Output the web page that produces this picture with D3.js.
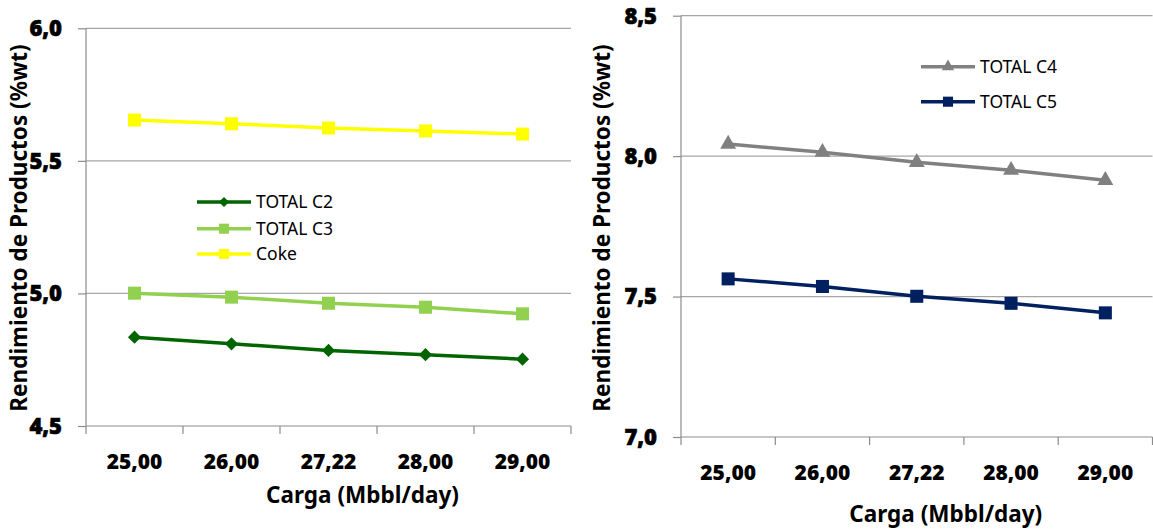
<!DOCTYPE html>
<html>
<head>
<meta charset="utf-8">
<script src="https://cdn.jsdelivr.net/npm/d3@7"></script>
<style>
  html, body { margin: 0; padding: 0; background: #fff; }
  svg { display: block; font-family: "Noto Sans", "DejaVu Sans", sans-serif; }
  text.num { font-family: "Open Sans", "Noto Sans", sans-serif; font-weight: 800; }
</style>
</head>
<body>
<svg id="chart" width="1153" height="529"></svg>
<script>
// Feed rate categories (Mbbl/day)
const cargas = ["25,00", "26,00", "27,22", "28,00", "29,00"];

// Light products yield (%wt)
const totalC2 = [4.835, 4.810, 4.785, 4.769, 4.752];
const totalC3 = [5.001, 4.986, 4.963, 4.948, 4.923];
const coke    = [5.654, 5.640, 5.624, 5.613, 5.601];

// Heavier products yield (%wt)
const totalC4 = [8.043, 8.014, 7.978, 7.950, 7.914];
const totalC5 = [7.563, 7.536, 7.501, 7.476, 7.442];

// Y tick values for each panel
const ticksLeft  = [4.5, 5.0, 5.5, 6.0];
const ticksRight = [7.0, 7.5, 8.0, 8.5];

const svg = d3.select("#chart");
const fmtComma = d => d3.format(".1f")(d).replace(".", ",");

function drawPanel(cfg) {
  const g = svg.append("g");
  const x = d3.scaleBand().domain(cargas).range([cfg.x0, cfg.x1]);
  const y = d3.scaleLinear().domain(cfg.domain).range([cfg.y0, cfg.y1]);

  // horizontal gridlines
  g.append("g").selectAll("line").data(cfg.ticks.slice(1)).join("line")
    .attr("x1", cfg.x0).attr("x2", cfg.x1)
    .attr("y1", d => y(d)).attr("y2", d => y(d))
    .attr("stroke", "#a6a6a6").attr("stroke-width", 1.2);

  // y axis: line and tick marks from the axis generator, labels drawn in bold
  const ya = g.append("g").attr("transform", `translate(${cfg.x0},0)`)
    .call(d3.axisLeft(y).tickValues(cfg.ticks).tickFormat("").tickSize(8));
  ya.selectAll("path, line").attr("stroke", "#8c8c8c").attr("stroke-width", 1.2);
  ya.select(".domain").attr("d", `M0,${cfg.y0}V${cfg.y1}`);
  ya.selectAll("text").remove();
  g.append("g").selectAll("text").data(cfg.ticks).join("text")
    .attr("class", "num")
    .attr("x", cfg.x0 - 24).attr("y", d => y(d)).attr("dy", "0.36em")
    .attr("text-anchor", "end")
    .style("font-size", "22px").attr("fill", "#000")
    .attr("stroke", "#000").attr("stroke-width", 0.6)
    .text(fmtComma);

  // x axis baseline and boundary ticks
  g.append("line").attr("x1", cfg.x0).attr("x2", cfg.x1)
    .attr("y1", cfg.y0).attr("y2", cfg.y0)
    .attr("stroke", "#8c8c8c").attr("stroke-width", 1.2);
  const bounds = cargas.map(c => x(c)).concat([x(cargas[cargas.length - 1]) + x.bandwidth()]);
  g.append("g").selectAll("line").data(bounds).join("line")
    .attr("x1", d => d).attr("x2", d => d)
    .attr("y1", cfg.y0).attr("y2", cfg.y0 + 8)
    .attr("stroke", "#8c8c8c").attr("stroke-width", 1.2);
  g.append("g").selectAll("text").data(cargas).join("text")
    .attr("class", "num")
    .attr("x", d => x(d) + x.bandwidth() / 2)
    .attr("y", cfg.y0 + cfg.xLabelDy)
    .attr("text-anchor", "middle")
    .style("font-size", "21px")
    .text(d => d);

  // axis titles
  g.append("text")
    .attr("x", (cfg.x0 + cfg.x1) / 2 + cfg.xTitleShift)
    .attr("y", cfg.xTitleY)
    .attr("text-anchor", "middle").style("font-weight", "700").style("font-size", "22.5px")
    .text("Carga (Mbbl/day)");
  g.append("text")
    .attr("transform", `translate(${cfg.yTitleX},${cfg.yTitleY}) rotate(-90)`)
    .attr("text-anchor", "middle").style("font-weight", "700").style("font-size", "22.5px")
    .text("Rendimiento de Productos (%wt)");

  // series
  const cx = i => x(cargas[i]) + x.bandwidth() / 2;
  cfg.series.forEach(s => {
    const line = d3.line().x((d, i) => cx(i)).y(d => y(d));
    g.append("path").datum(s.values).attr("d", line)
      .attr("fill", "none").attr("stroke", s.color).attr("stroke-width", 3.5)
      .attr("stroke-linejoin", "round");
    g.append("g").selectAll("path").data(s.values).join("path")
      .attr("transform", (d, i) => `translate(${cx(i)},${y(d)})`)
      .attr("d", d3.symbol().type(s.symbol).size(s.size)())
      .attr("fill", s.color);
  });

  // legend
  const lg = g.append("g");
  cfg.series.forEach((s, i) => {
    const ly = cfg.legendY[i];
    lg.append("line").attr("x1", cfg.legendX).attr("x2", cfg.legendX + 54)
      .attr("y1", ly).attr("y2", ly).attr("stroke", s.color).attr("stroke-width", 3.5);
    lg.append("path").attr("transform", `translate(${cfg.legendX + 27},${ly})`)
      .attr("d", d3.symbol().type(s.symbol).size(s.size * 0.6)())
      .attr("fill", s.color);
    lg.append("text").attr("x", cfg.legendX + 59).attr("y", ly).attr("dy", "0.35em")
      .style("font-size", "17.5px").text(s.name);
  });
}

drawPanel({
  x0: 86, x1: 571, y0: 426, y1: 28.3, domain: [4.5, 6.0], ticks: ticksLeft,
  xLabelDy: 43, xTitleY: 503, xTitleShift: 34, yTitleX: 27, yTitleY: 228,
  legendX: 197, legendY: [202, 228.7, 254],
  series: [
    { name: "TOTAL C2", values: totalC2, color: "#006400", symbol: d3.symbolDiamond2, size: 110 },
    { name: "TOTAL C3", values: totalC3, color: "#92d050", symbol: d3.symbolSquare, size: 170 },
    { name: "Coke",     values: coke,    color: "#ffff00", symbol: d3.symbolSquare, size: 170 }
  ]
});

drawPanel({
  x0: 681, x1: 1152.5, y0: 437, y1: 15.7, domain: [7.0, 8.5], ticks: ticksRight,
  xLabelDy: 43, xTitleY: 522, xTitleShift: 29, yTitleX: 610, yTitleY: 228,
  legendX: 921, legendY: [66.7, 101.7],
  series: [
    { name: "TOTAL C4", values: totalC4, color: "#808080", symbol: d3.symbolTriangle, size: 110 },
    { name: "TOTAL C5", values: totalC5, color: "#002060", symbol: d3.symbolSquare, size: 170 }
  ]
});
</script>
</body>
</html>
